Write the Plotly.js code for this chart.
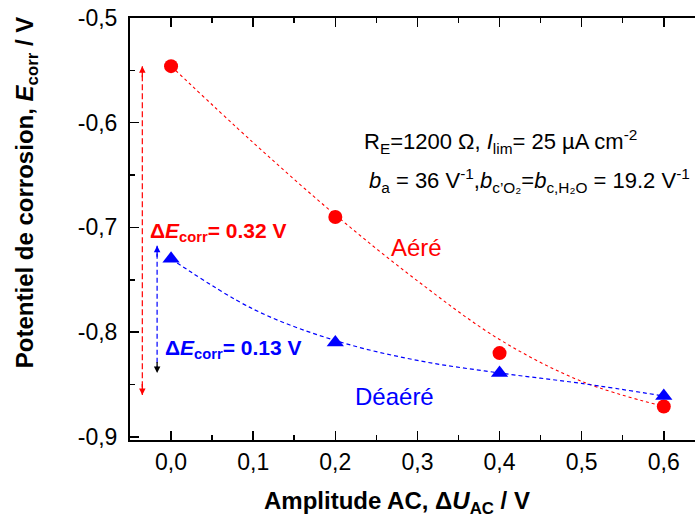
<!DOCTYPE html>
<html>
<head>
<meta charset="utf-8">
<script src="https://cdn.plot.ly/plotly-3.0.1.min.js"></script>
<style>html,body{margin:0;padding:0;background:#fff;}#chart{width:695px;height:524px;}</style>
</head>
<body>
<div id="chart"></div>
<script>
// Measured points
const xAmp = [0, 0.2, 0.4, 0.6];
const eAere = [-0.546, -0.690, -0.820, -0.871];
const eDeaere = [-0.730, -0.810, -0.839, -0.861];
// Dashed fit curves
const fitX = [0, 0.1, 0.2, 0.3, 0.4, 0.5, 0.6];
const fitAere = [-0.546, -0.619, -0.688, -0.751, -0.807, -0.847, -0.871];
const fitDeaere = [-0.730, -0.778, -0.808, -0.827, -0.839, -0.849, -0.861];
// Delta E arrows
const dAereX = [-0.035, -0.035];
const dAereY = [-0.546, -0.860];
const dDeaereX = [-0.017, -0.017];
const dDeaereY = [-0.7175, -0.839];
// Tick labels
const xTickVals = [0, 0.1, 0.2, 0.3, 0.4, 0.5, 0.6];
const xTickText = ['0,0', '0,1', '0,2', '0,3', '0,4', '0,5', '0,6'];
const yTickVals = [-0.9, -0.8, -0.7, -0.6, -0.5];
const yTickText = ['-0,9', '-0,8', '-0,7', '-0,6', '-0,5'];

const RED = '#ff0000', BLUE = '#0000ff';
const FONT = 'Liberation Sans, Arial, sans-serif';

const traces = [
  {x: fitX, y: fitAere, mode: 'lines', line: {color: RED, width: 1.1, dash: '3px,3px', shape: 'spline'}},
  {x: fitX, y: fitDeaere, mode: 'lines', line: {color: BLUE, width: 1.2, dash: '4px,3px', shape: 'spline'}},
  {x: dAereX, y: dAereY, mode: 'lines', line: {color: RED, width: 1.2, dash: '6px,3px'}},
  {x: dDeaereX, y: dDeaereY, mode: 'lines', line: {color: BLUE, width: 1.2, dash: '5px,3px'}},
  {x: xAmp, y: eAere, mode: 'markers', marker: {color: RED, size: 14, symbol: 'circle'}},
  {x: xAmp, y: eDeaere, mode: 'markers', marker: {color: BLUE, size: 15, symbol: 'triangle-up'}}
];

function head(x, y, tailY, color) {
  return {x: x, y: y, ax: x, ay: tailY, xref: 'x', yref: 'y', axref: 'x', ayref: 'y',
    text: '', showarrow: true, arrowhead: 2, arrowsize: 1, arrowwidth: 1.3, arrowcolor: color};
}

const annotations = [
  head(dAereX[0], dAereY[0], dAereY[0] - 0.012, RED),
  head(dAereX[1], dAereY[1], dAereY[1] + 0.012, RED),
  head(dDeaereX[0], dDeaereY[0], dDeaereY[0] - 0.012, BLUE),
  head(dDeaereX[1], dDeaereY[1], dDeaereY[1] + 0.012, '#000000'),
  {x: -0.0284, y: -0.7044, xref: 'x', yref: 'y', xanchor: 'left', yanchor: 'middle', showarrow: false,
   text: '<b>Δ<i>E</i><sub>corr</sub>= 0.32 V</b>', font: {family: FONT, size: 21, color: RED}},
  {x: -0.0101, y: -0.816, xref: 'x', yref: 'y', xanchor: 'left', yanchor: 'middle', showarrow: false,
   text: '<b>Δ<i>E</i><sub>corr</sub>= 0.13 V</b>', font: {family: FONT, size: 21, color: BLUE}},
  {x: 0.299, y: -0.719, xref: 'x', yref: 'y', xanchor: 'center', yanchor: 'middle', showarrow: false,
   text: 'Aéré', font: {family: FONT, size: 24, color: RED}},
  {x: 0.272, y: -0.861, xref: 'x', yref: 'y', xanchor: 'center', yanchor: 'middle', showarrow: false,
   text: 'Déaéré', font: {family: FONT, size: 24, color: BLUE}},
  {x: 0.232, y: -0.618, xref: 'x', yref: 'y', xanchor: 'left', yanchor: 'middle', showarrow: false,
   text: 'R<sub>E</sub>=1200 Ω, <i>I</i><sub>lim</sub>= 25 µA cm<sup>-2</sup>', font: {family: FONT, size: 22, color: '#000'}},
  {x: 0.239, y: -0.655, xref: 'x', yref: 'y', xanchor: 'left', yanchor: 'middle', showarrow: false,
   text: '<i>b</i><sub>a</sub> = 36 V<sup>-1</sup>,<i>b</i><sub>c\u2019O\u2082</sub>=<i>b</i><sub>c,H\u2082O</sub> = 19.2 V<sup>-1</sup>',
   font: {family: FONT, size: 22, color: '#000'}},
  {x: -0.184, y: 0.585, xref: 'paper', yref: 'paper', xanchor: 'center', yanchor: 'middle', showarrow: false,
   textangle: -90, text: '<b>Potentiel de corrosion, <i>E</i><sub>corr</sub> / V</b>', font: {family: FONT, size: 24, color: '#000'}},
  {x: 0.4726, y: -0.149, xref: 'paper', yref: 'paper', xanchor: 'center', yanchor: 'middle', showarrow: false,
   text: '<b>Amplitude AC, Δ<i>U</i><sub>AC</sub> / V</b>', font: {family: FONT, size: 24, color: '#000'}}
];

const layout = {
  width: 695, height: 524,
  margin: {l: 130, r: 0, t: 18, b: 84},
  paper_bgcolor: '#fff', plot_bgcolor: '#fff',
  showlegend: false, hovermode: false,
  font: {family: FONT, color: '#000'},
  xaxis: {
    range: [-0.05, 0.638], tickmode: 'array', tickvals: xTickVals, ticktext: xTickText,
    ticks: 'inside', ticklen: 9, tickwidth: 1.5, tickcolor: '#000',
    showline: true, linewidth: 2, linecolor: '#000', mirror: 'ticks',
    showgrid: false, zeroline: false, tickfont: {family: FONT, size: 23, color: '#000'},
    minor: {tickmode: 'linear', tick0: 0.05, dtick: 0.1, ticks: 'inside', ticklen: 5, tickwidth: 1.5, tickcolor: '#000', showgrid: false}
  },
  yaxis: {
    range: [-0.903, -0.5], tickmode: 'array', tickvals: yTickVals, ticktext: yTickText,
    ticks: 'inside', ticklen: 9, tickwidth: 1.5, tickcolor: '#000',
    showline: true, linewidth: 2, linecolor: '#000', mirror: false,
    showgrid: false, zeroline: false, tickfont: {family: FONT, size: 23, color: '#000'},
    ticklabelstandoff: 6,
    minor: {tickmode: 'linear', tick0: -0.55, dtick: 0.1, ticks: 'inside', ticklen: 5, tickwidth: 1.5, tickcolor: '#000', showgrid: false}
  },
  annotations: annotations
};

Plotly.newPlot('chart', traces, layout, {staticPlot: true, displayModeBar: false});
</script>
</body>
</html>
